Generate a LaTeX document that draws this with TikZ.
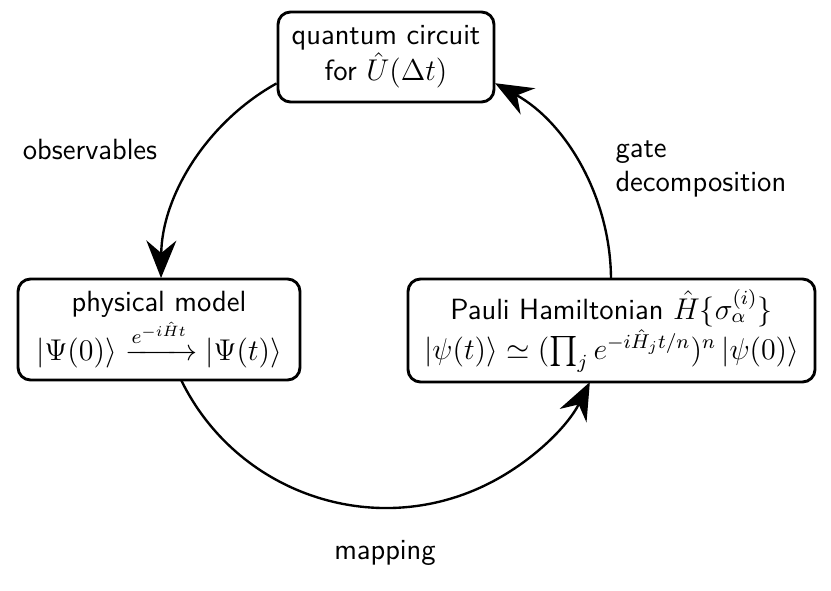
\documentclass[tikz,border=0pt]{standalone}
\usepackage{amsmath}
\usetikzlibrary{arrows.meta}
\renewcommand{\familydefault}{\sfdefault}
\begin{document}
\begin{tikzpicture}[x=0.4pt,y=0.4pt,
  box/.style={draw,line width=1.15pt,rounded corners=5pt,align=center,inner sep=0pt,font=\fontsize{11.7}{14.5}\selectfont},
  conn/.style={line width=0.95pt,-{Stealth[length=15pt,width=12pt,inset=5pt]}},
  lbl/.style={font=\fontsize{11.7}{13.6}\selectfont,inner sep=0pt}]
\useasboundingbox (0,0) rectangle (831,-591);
\node[box,minimum width=86.4pt,minimum height=36pt] (top) at (386,-57)
  {quantum circuit\\ for $\hat{U}(\Delta t)$};
\node[box,minimum width=112.8pt,minimum height=40.4pt] (left) at (159,-329.5)
  {physical model\\ $|\Psi(0)\rangle \xrightarrow{e^{-i\hat{H}t}} |\Psi(t)\rangle$};
\node[box,minimum width=162.8pt,minimum height=41.2pt] (right) at (611.5,-330.5)
  {Pauli Hamiltonian $\hat{H}\{\sigma_\alpha^{(i)}\}$\\ $|\psi(t)\rangle \simeq (\prod_j e^{-i\hat{H}_j t/n})^n\,|\psi(0)\rangle$};
\coordinate (c) at (386,-280);
\draw[conn] (c) ++(119.1:225) coordinate (s1) arc[start angle=119.1,end angle=179.5,radius=225] coordinate (e1);
\draw[conn] (c) ++(0.3:225) coordinate (s2) arc[start angle=0.3,end angle=61,radius=225] coordinate (e2);
\draw[conn] (c) ++(206:228) coordinate (s3) arc[start angle=206,end angle=333.4,radius=228] coordinate (e3);
\node[lbl] (obs) at (90,-150) {observables};
\node[lbl,align=left,anchor=west] (gate) at (615,-169) {gate\\ decomposition};
\node[lbl] (map) at (385,-553) {mapping};
\end{tikzpicture}
\end{document}
